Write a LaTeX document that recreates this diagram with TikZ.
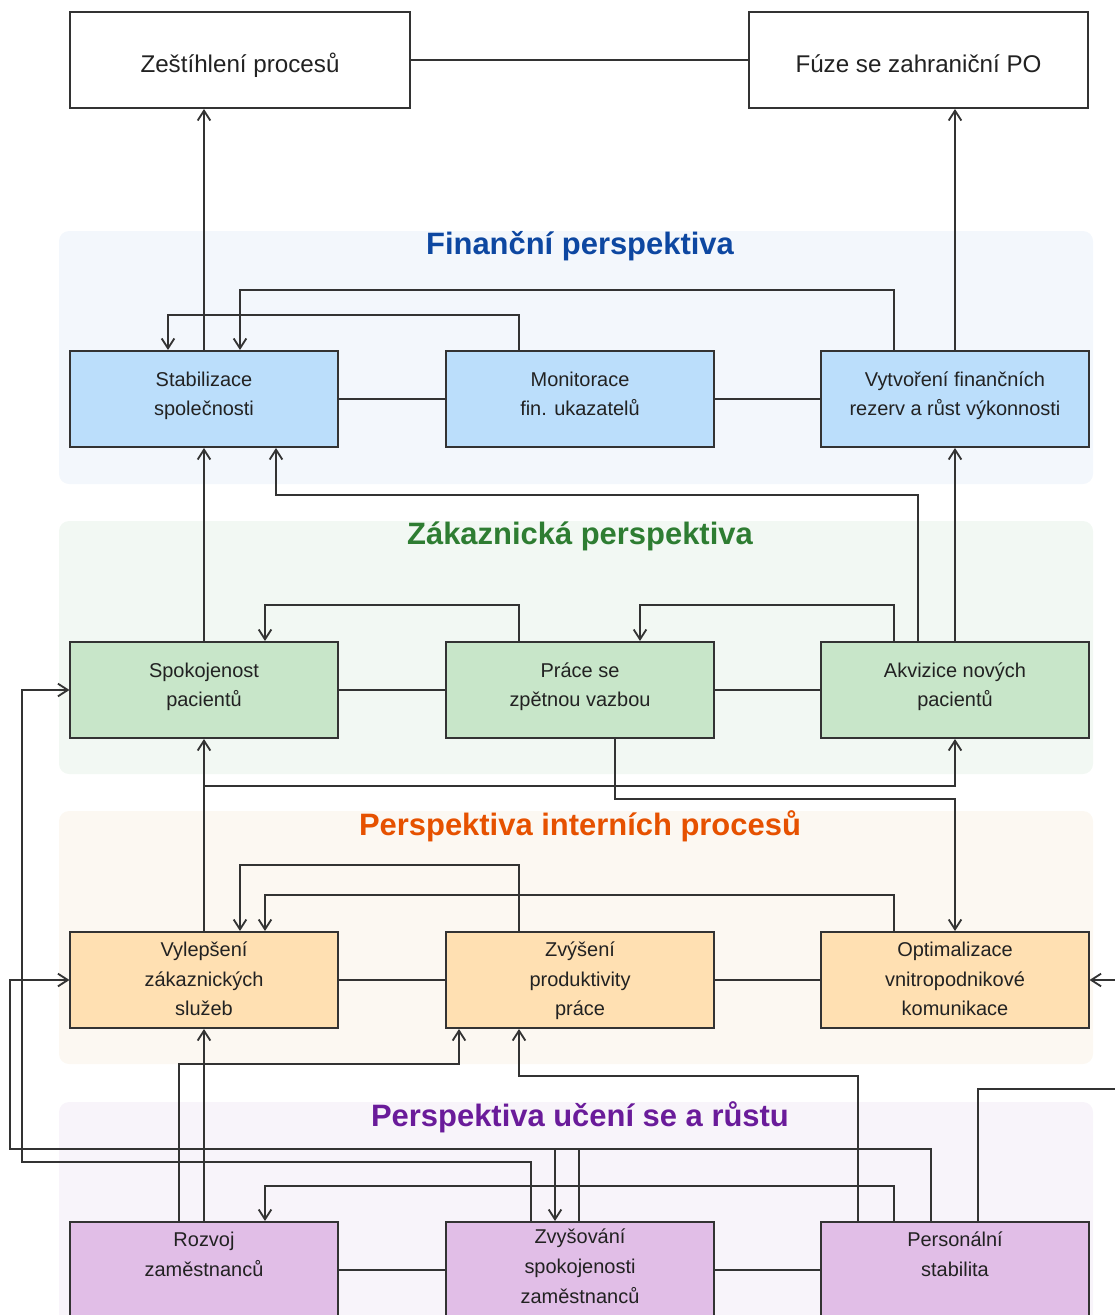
\documentclass[tikz,border=0pt]{standalone}
\usepackage{fontspec}
\setmainfont{Liberation Sans}
\usepackage{xcolor}
\usetikzlibrary{arrows.meta, calc}

\definecolor{linec}{HTML}{333333}
\definecolor{textc}{HTML}{222222}
\definecolor{finbg}{HTML}{F3F7FC}
\definecolor{custbg}{HTML}{F2F8F3}
\definecolor{intbg}{HTML}{FCF8F2}
\definecolor{learnbg}{HTML}{F8F4FA}
\definecolor{fintitle}{HTML}{0D47A1}
\definecolor{custtitle}{HTML}{2E7D32}
\definecolor{inttitle}{HTML}{E65100}
\definecolor{learntitle}{HTML}{6A1B9A}
\definecolor{finbox}{HTML}{BBDEFB}
\definecolor{custbox}{HTML}{C8E6C9}
\definecolor{intbox}{HTML}{FFE0B2}
\definecolor{learnbox}{HTML}{E1BEE7}

% centred lines with even spacing
\newcommand{\boxlines}[1]{\begin{tabular}{@{}c@{}}#1\end{tabular}}

\begin{document}
\begin{tikzpicture}[x=0.025cm, y=-0.025cm,
  box/.style={draw=linec, line width=1.4pt, minimum width=6.675cm, minimum height=2.4cm,
    inner sep=0pt, text=textc, font=\fontsize{14.2}{21.3}\selectfont},
  topbox/.style={draw=linec, line width=1.4pt, fill=white, minimum height=2.4cm,
    inner sep=0pt, text=textc, text height=18pt, text depth=0pt,
    font=\fontsize{17.2}{20}\selectfont},
  conn/.style={draw=linec, line width=1.3pt},
  arr/.style={conn, -{Straight Barb[length=7pt,width=9pt]}},
  ptitle/.style={font=\bfseries\fontsize{22}{26}\selectfont}]
\useasboundingbox (0,0) rectangle (1115,1315);

% Perspective panels with their titles
\foreach \i/\ya/\bg/\tc/\ttl in {1/231/finbg/fintitle/Finanční perspektiva,
    2/521/custbg/custtitle/Zákaznická perspektiva,
    3/811/intbg/inttitle/Perspektiva interních procesů,
    4/1102/learnbg/learntitle/Perspektiva učení se a růstu} {
    \fill[\bg, rounded corners=0.25cm] (59,\ya) rectangle (1093,\ya+253);
    \node[ptitle, text=\tc] (title\i) at (580,\ya+15) {\ttl};
}

% Goals on top
\node[topbox, minimum width=8.5cm] (zest) at (240,60) {Zeštíhlení procesů};
\node[topbox, minimum width=8.475cm] (fuse) at (918.5,60) {Fúze se zahraniční PO};

% Financial perspective
\node[box, fill=finbox] (stab) at (204,399) {\boxlines{Stabilizace\\společnosti\\[5.7pt]}};
\node[box, fill=finbox] (monit) at (580,399) {\boxlines{Monitorace\\fin. ukazatelů\\[5.7pt]}};
\node[box, fill=finbox] (vytv) at (955,399) {\boxlines{Vytvoření finančních\\rezerv a růst výkonnosti\\[5.7pt]}};

% Customer perspective
\node[box, fill=custbox] (spok) at (204,690) {\boxlines{Spokojenost\\pacientů\\[5.7pt]}};
\node[box, fill=custbox] (prace) at (580,690) {\boxlines{Práce se\\zpětnou vazbou\\[5.7pt]}};
\node[box, fill=custbox] (akv) at (955,690) {\boxlines{Akvizice nových\\pacientů\\[5.7pt]}};

% Internal processes
\node[box, fill=intbox] (vyl) at (204,980) {\boxlines{Vylepšení\\zákaznických\\služeb}};
\node[box, fill=intbox] (zvys) at (580,980) {\boxlines{Zvýšení\\produktivity\\práce}};
\node[box, fill=intbox] (opt) at (955,980) {\boxlines{Optimalizace\\vnitropodnikové\\komunikace}};

% Learning and growth
\node[box, fill=learnbox] (rozv) at (204,1270) {\boxlines{Rozvoj\\zaměstnanců\\[21.3pt]}};
\node[box, fill=learnbox] (zvysov) at (580,1270) {\boxlines{Zvyšování\\spokojenosti\\zaměstnanců\\[4pt]}};
\node[box, fill=learnbox] (pers) at (955,1270) {\boxlines{Personální\\stabilita\\[21.3pt]}};

% Plain links inside the rows
\draw[conn] (zest) -- (fuse);
\draw[conn] (stab) -- (monit);
\draw[conn] (monit) -- (vytv);
\draw[conn] (spok) -- (prace);
\draw[conn] (prace) -- (akv);
\draw[conn] (vyl) -- (zvys);
\draw[conn] (zvys) -- (opt);
\draw[conn] (rozv) -- (zvysov);
\draw[conn] (zvysov) -- (pers);

% Financial links
\draw[arr] (stab.north) -- (stab.north |- zest.south);
\draw[arr] (vytv.north) -- (vytv.north |- fuse.south);
\draw[arr] ($(monit.north)+(-61,0)$) -- ++(0,-35) -| ($(stab.north)+(-36,0)$);
\draw[arr] ($(vytv.north)+(-61,0)$) -- ++(0,-60) -| ($(stab.north)+(36,0)$);

% Customer links
\draw[arr] (spok.north) -- (stab.south);
\draw[arr] (akv.north) -- (vytv.south);
\draw[arr] ($(akv.north)+(-37,0)$) -- ++(0,-146) -| ($(stab.south)+(72,0)$);
\draw[arr] ($(prace.north)+(-61,0)$) -- ++(0,-36) -| ($(spok.north)+(61,0)$);
\draw[arr] ($(akv.north)+(-61,0)$) -- ++(0,-36) -| ($(prace.north)+(60,0)$);

% Internal process links
\draw[arr] (vyl.north) -- (spok.south);
\draw[arr] (vyl.north) -- ++(0,-145) -| (akv.south);
\draw[arr] ($(prace.south)+(35,0)$) -- ++(0,60) -| (opt.north);
\draw[arr] ($(zvys.north)+(-61,0)$) -- ++(0,-66) -| ($(vyl.north)+(36,0)$);
\draw[arr] ($(opt.north)+(-61,0)$) -- ++(0,-36) -| ($(vyl.north)+(61,0)$);

% Learning and growth links
\draw[arr] (rozv.north) -- (vyl.south);
\draw[arr] ($(rozv.north)+(-25,0)$) -- ++(0,-157) -| ($(zvys.south)+(-121,0)$);
\draw[arr] ($(pers.north)+(-97,0)$) -- ++(0,-145) -| ($(zvys.south)+(-61,0)$);
\draw[arr] ($(pers.north)+(-61,0)$) -- ++(0,-35) -| ($(rozv.north)+(61,0)$);
\draw[arr] ($(pers.north)+(-24,0)$) -- ++(0,-72) -| ($(zvysov.north)+(-25,0)$);
\draw[arr] ($(zvysov.north)+(-1,0)$) -- ++(0,-72) -- ++(-569,0) |- (vyl.west);
\draw[arr] ($(zvysov.north)+(-49,0)$) -- ++(0,-59) -- ++(-509,0) |- (spok.west);
\draw[arr] ($(pers.north)+(23,0)$) -- ++(0,-132) -- ++(150,0) |- (opt.east);
\end{tikzpicture}
\end{document}
